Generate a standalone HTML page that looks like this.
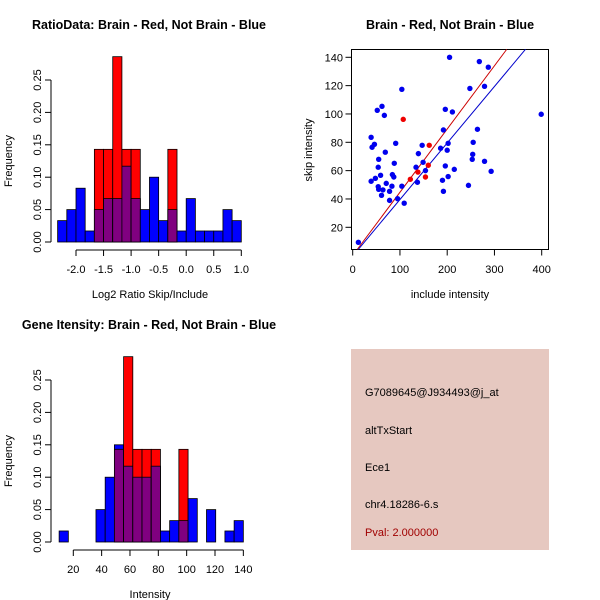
<!DOCTYPE html>
<html><head><meta charset="utf-8"><style>
body{margin:0;background:#fff}
svg{display:block;font-family:"Liberation Sans",sans-serif}
</style></head><body>
<svg id="c" width="600" height="600" xmlns="http://www.w3.org/2000/svg">
<g id="h1"></g>
<g id="h2"></g>
<g id="sc"></g>
<g>
<rect x="351" y="349" width="198" height="201" fill="#e6c8c0"/>
<text x="365" y="396" font-size="11">G7089645@J934493@j_at</text>
<text x="365" y="434" font-size="11">altTxStart</text>
<text x="365" y="471" font-size="11">Ece1</text>
<text x="365" y="508" font-size="11">chr4.18286-6.s</text>
<text x="365" y="536" font-size="11" fill="#a00000">Pval: 2.000000</text>
</g>
</svg>
<script>
const ratioBlue=[0.033,0.05,0.083,0.017,0.05,0.067,0.067,0.117,0.067,0.05,0.1,0.033,0.05,0.017,0.067,0.017,0.017,0.017,0.05,0.033];
const ratioRed=[0,0,0,0,0.143,0.143,0.286,0.143,0.143,0,0,0,0.143,0,0,0,0,0,0,0];
const ratioTicks=[-2.0,-1.5,-1.0,-0.5,0.0,0.5,1.0];
const intBlue=[0.017,0,0,0,0.05,0.1,0.15,0.117,0.1,0.1,0.117,0.017,0.033,0.033,0.067,0,0.05,0,0.017,0.033];
const intRed=[0,0,0,0,0,0,0.143,0.286,0.143,0.143,0.143,0,0,0.143,0,0,0,0,0,0];
const intTicks=[20,40,60,80,100,120,140];
const freqTicks=[0.00,0.05,0.10,0.15,0.20,0.25];
const blueX=[12,205,268,287,104,248,279,52,62,67,196,211,399,39,46,41,91,69,55,192,264,255,202,200,186,147,139,149,88,54,134,154,254,253,279,293,215,196,59,48,39,84,87,202,190,137,71,83,104,54,55,64,78,192,61,245,95,78,109];
const blueY=[9.4,140,137,133,117.4,118,119.5,102.6,105.4,99,103.3,101.4,99.8,83.5,78.6,76.5,79.3,73,68,88.7,89.2,80,79.3,74.4,75.8,77.9,72,65.9,65.2,62.4,62.4,60,71.5,68,66.6,59.5,60.9,63.3,56.7,54.6,52.5,57.2,55.5,55.8,53.2,51.8,51,49,49,48.7,46.8,46.4,45.4,45.4,42.6,49.6,40.2,39,37];
const redX=[107,162,160,138,122,154];
const redY=[96.2,77.9,63.8,59,53.9,55.5];
const scXTicks=[0,100,200,300,400];
const scYTicks=[20,40,60,80,100,120,140];
const fitRed=[0.08,0.4465];
const fitBlue=[-0.3,0.399];

const NS="http://www.w3.org/2000/svg";
function mk(p,t,a){const e=document.createElementNS(NS,t);for(const k in a)e.setAttribute(k,a[k]);p.appendChild(e);return e;}

function hist(g,dy,blue,red,x0,bw,xscale,ticks,fmt,title,xlab){
  const y=v=>242+dy-v/0.05*32.4;
  const n=blue.length;
  for(let i=0;i<n;i++){
    const xa=xscale(x0+i*bw),xb=xscale(x0+(i+1)*bw);
    if(blue[i]>0){const r=mk(g,'rect',{x:xa,y:y(blue[i]),width:xb-xa,height:y(0)-y(blue[i]),fill:'#0000ff',stroke:'#000','stroke-width':0.8});
      
      }
    if(red[i]>0){const r=mk(g,'rect',{x:xa,y:y(red[i]),width:xb-xa,height:y(0)-y(red[i]),fill:'#ff0000',stroke:'#000','stroke-width':0.8});
      
      }
    const m=Math.min(blue[i],red[i]);
    if(m>0){const r=mk(g,'rect',{x:xa,y:y(m),width:xb-xa,height:y(0)-y(m),fill:'#800080',stroke:'#000','stroke-width':0.8});
      
      }
  }
  mk(g,'line',{x1:51,x2:51,y1:y(0),y2:y(0.25),stroke:'#000'});
  freqTicks.forEach(v=>{mk(g,'line',{x1:45,x2:51,y1:y(v),y2:y(v),stroke:'#000'});
    const t=mk(g,'text',{x:0,y:0,'font-size':11,'text-anchor':'middle',transform:`translate(41,${y(v)}) rotate(-90)`});t.textContent=v.toFixed(2);
    
    });
  const ay=250+dy;
  mk(g,'line',{x1:xscale(ticks[0]),x2:xscale(ticks[ticks.length-1]),y1:ay,y2:ay,stroke:'#000'});
  ticks.forEach(v=>{mk(g,'line',{x1:xscale(v),x2:xscale(v),y1:ay,y2:ay+6,stroke:'#000'});
    const t=mk(g,'text',{x:xscale(v),y:273+dy,'font-size':11,'text-anchor':'middle'});t.textContent=fmt(v);
    
    });
  let t=mk(g,'text',{x:0,y:0,'font-size':11,'text-anchor':'middle',transform:`translate(12,${161+dy}) rotate(-90)`});t.textContent='Frequency';
  
  
  t=mk(g,'text',{x:150,y:298+dy,'font-size':11,'text-anchor':'middle'});t.textContent=xlab;
  
  
  t=mk(g,'text',{x:149,y:29+dy,'font-size':12.5,'font-weight':'bold','text-anchor':'middle'});t.textContent=title;
  
  
}
hist(document.getElementById('h1'),0,ratioBlue,ratioRed,-7/3,1/6,v=>76+(v+2)*55.1,ratioTicks,v=>v.toFixed(1),'RatioData: Brain - Red, Not Brain - Blue','Log2 Ratio Skip/Include');
hist(document.getElementById('h2'),300,intBlue,intRed,10,6.5,v=>73.3+(v-20)*1.417,intTicks,v=>String(v),'Gene Itensity: Brain - Red, Not Brain - Blue','Intensity');

(function(){
  const g=document.getElementById('sc');
  const sx=v=>352.7+v*0.4725, sy=v=>227.3-(v-20)*1.4167;
  mk(g,'rect',{x:351.5,y:49.5,width:197,height:200,fill:'none',stroke:'#000'});
  scXTicks.forEach(v=>{mk(g,'line',{x1:sx(v),x2:sx(v),y1:249.5,y2:255.5,stroke:'#000'});
    const t=mk(g,'text',{x:sx(v),y:273,'font-size':11,'text-anchor':'middle'});t.textContent=v;
    
    });
  scYTicks.forEach(v=>{mk(g,'line',{x1:345.5,x2:351.5,y1:sy(v),y2:sy(v),stroke:'#000'});
    const t=mk(g,'text',{x:343,y:sy(v)+4,'font-size':11,'text-anchor':'end'});t.textContent=v;
    
    });
  [[fitRed,'#cc0000'],[fitBlue,'#0000cc']].forEach(([f,c])=>{
    const ya=4.5,yb=145.6;
    const xa=(ya-f[0])/f[1],xb=(yb-f[0])/f[1];
    const l=mk(g,'line',{x1:sx(xa),y1:sy(ya),x2:sx(xb),y2:sy(yb),stroke:c,'stroke-width':1});
    
    
  });
  for(let i=0;i<blueX.length;i++){const p=mk(g,'circle',{cx:sx(blueX[i]),cy:sy(blueY[i]),r:2.7,fill:'#0000ee'});
    
    }
  for(let i=0;i<redX.length;i++){const p=mk(g,'circle',{cx:sx(redX[i]),cy:sy(redY[i]),r:2.7,fill:'#ee0000'});
    
    }
  let t=mk(g,'text',{x:450,y:298,'font-size':11,'text-anchor':'middle'});t.textContent='include intensity';
  
  
  t=mk(g,'text',{x:0,y:0,'font-size':11,'text-anchor':'middle',transform:'translate(312,150) rotate(-90)'});t.textContent='skip intensity';
  
  
  t=mk(g,'text',{x:450,y:29,'font-size':12.5,'font-weight':'bold','text-anchor':'middle'});t.textContent='Brain - Red, Not Brain - Blue';
  
  
})();
</script>
</body></html>
